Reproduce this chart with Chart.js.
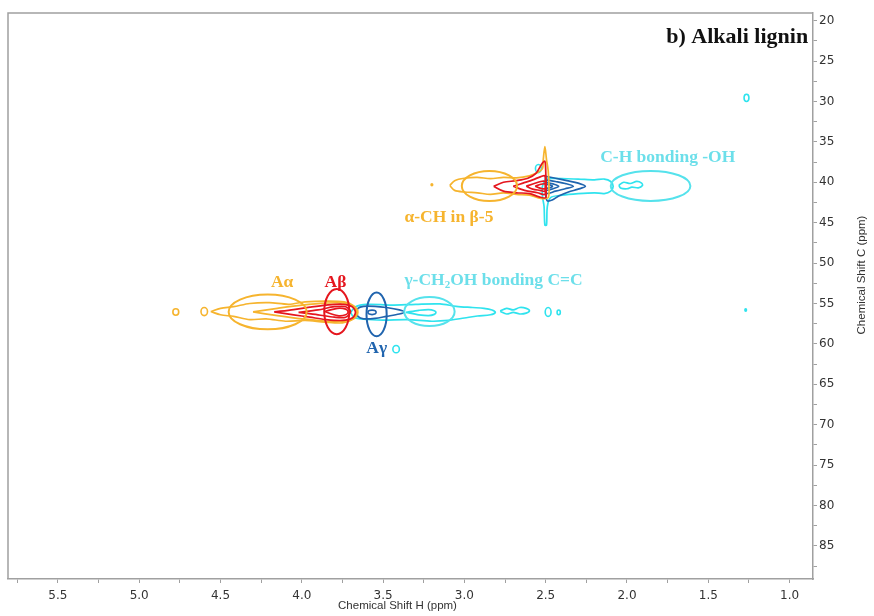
<!DOCTYPE html>
<html><head><meta charset="utf-8">
<script src="https://cdn.jsdelivr.net/npm/chart.js@4/dist/chart.umd.min.js"></script>
<style>html,body{margin:0;padding:0;background:#fff}#wrap{width:874px;height:616px}</style>
</head><body><div id="wrap"><canvas id="c" width="874" height="616"></canvas></div>
<script>
// ---------- axis settings (ppm) ----------
const xRange = [0.856, 5.807];   // 1H (reversed)
const yRange = [19.05, 89.1];    // 13C (reversed)
const xTitle = 'Chemical Shift H (ppm)';
const yTitle = 'Chemical Shift C (ppm)';

// ---------- contour outlines [H ppm, C ppm] ----------
// upper cluster (~40 ppm)
const upCyanOuter = [[2.50,39.5],[2.40,39.55],[2.30,39.6],[2.20,39.7],[2.14,39.6],[2.10,39.9],[2.085,40.5],[2.10,41.1],[2.14,41.4],[2.20,41.3],[2.30,41.4],[2.40,41.6],[2.47,41.9],[2.49,43.0],[2.495,45.3],[2.505,45.3],[2.51,43.0],[2.52,41.7],[2.52,40.5]];
const upCyanBlob = [[2.05,40.35],[2.02,40.0],[1.98,40.15],[1.94,39.9],[1.91,40.1],[1.905,40.4],[1.93,40.7],[1.97,40.6],[2.00,40.8],[2.04,40.7]];
const upBlue1 = [[2.50,39.25],[2.44,39.5],[2.37,39.8],[2.30,40.1],[2.256,40.5],[2.30,40.85],[2.36,41.2],[2.42,41.7],[2.46,42.2],[2.49,42.3],[2.50,41.5]];
const upBlue2 = [[2.495,39.7],[2.44,39.9],[2.38,40.15],[2.33,40.5],[2.38,40.8],[2.44,41.1],[2.495,41.35]];
const upBlue3 = [[2.495,40.0],[2.455,40.2],[2.42,40.5],[2.455,40.8],[2.495,40.95]];
const upBlue4 = [[2.495,40.25],[2.47,40.35],[2.458,40.5],[2.47,40.65],[2.495,40.7]];
const upOrangeOuter = [[3.09,40.4],[3.06,39.8],[3.0,39.5],[2.92,39.4],[2.84,39.55],[2.76,39.4],[2.68,39.45],[2.60,39.2],[2.55,38.8],[2.52,38.3],[2.515,37.2],[2.505,35.6],[2.495,37.2],[2.485,38.5],[2.48,40.5],[2.485,41.9],[2.53,42.0],[2.60,41.6],[2.68,41.5],[2.76,41.3],[2.84,41.5],[2.92,41.3],[3.0,41.2],[3.06,41.0]];
const upRed1 = [[2.82,40.5],[2.76,40.0],[2.68,39.8],[2.61,39.5],[2.56,38.9],[2.52,37.6],[2.505,37.4],[2.50,38.5],[2.498,40.5],[2.50,41.9],[2.54,41.8],[2.60,41.4],[2.68,41.3],[2.76,41.1]];
const upRed2 = [[2.70,40.5],[2.64,40.1],[2.58,39.7],[2.53,39.3],[2.505,39.2],[2.50,40.5],[2.505,41.5],[2.55,41.3],[2.63,41.0]];
const upRed3 = [[2.62,40.5],[2.57,40.15],[2.53,39.9],[2.505,39.9],[2.50,40.5],[2.505,41.1],[2.535,41.0],[2.58,40.85]];
const upRed4 = [[2.565,40.5],[2.53,40.25],[2.505,40.2],[2.50,40.5],[2.505,40.8],[2.53,40.75]];

// lower cluster (~56 ppm)
const loCyanOuter = [[3.70,56.1],[3.67,55.4],[3.60,55.1],[3.45,55.2],[3.30,55.1],[3.15,55.05],[3.05,55.35],[2.95,55.5],[2.88,55.6],[2.83,55.8],[2.81,56.1],[2.84,56.4],[2.92,56.55],[3.0,56.8],[3.1,57.1],[3.2,57.2],[3.35,57.0],[3.5,57.05],[3.62,56.95],[3.68,56.7]];
const loCyanInner = [[3.36,56.1],[3.28,55.85],[3.22,55.75],[3.185,55.9],[3.175,56.1],[3.185,56.35],[3.22,56.5],[3.28,56.4]];
const loCyanBlob = [[2.78,55.95],[2.74,55.6],[2.70,55.8],[2.66,55.5],[2.62,55.6],[2.60,55.9],[2.62,56.2],[2.66,56.3],[2.70,56.1],[2.74,56.3]];
const loBlue1 = [[3.66,56.1],[3.655,55.6],[3.62,55.35],[3.55,55.35],[3.48,55.5],[3.40,55.8],[3.37,56.05],[3.40,56.3],[3.48,56.6],[3.55,56.85],[3.62,56.9],[3.655,56.6]];
const loOrangeOuter = [[4.56,56.0],[4.50,55.6],[4.42,55.4],[4.32,55.0],[4.20,54.9],[4.08,55.1],[3.98,54.8],[3.85,54.7],[3.74,54.8],[3.68,55.3],[3.655,56.1],[3.68,56.9],[3.75,57.4],[3.86,57.3],[3.98,57.1],[4.10,57.2],[4.22,56.9],[4.32,57.0],[4.42,56.6],[4.50,56.4]];
const loOrange2 = [[4.30,56.05],[4.15,55.6],[4.0,55.2],[3.85,54.95],[3.74,54.95],[3.68,55.4],[3.665,56.1],[3.68,56.8],[3.74,57.2],[3.85,57.2],[4.0,56.9],[4.15,56.5]];
const loRed1 = [[4.17,56.05],[4.05,55.75],[3.95,55.45],[3.85,55.2],[3.75,55.1],[3.69,55.4],[3.67,56.1],[3.69,56.8],[3.75,57.1],[3.85,57.0],[3.95,56.7],[4.05,56.4]];
const loRed2 = [[4.02,56.1],[3.90,55.8],[3.80,55.4],[3.73,55.4],[3.70,56.0],[3.73,56.7],[3.80,56.7],[3.90,56.4]];
const loRed3 = [[3.86,56.0],[3.78,55.6],[3.73,55.7],[3.715,56.05],[3.73,56.4],[3.78,56.5]];

// small isolated peaks [H, C, halfwidth H, halfheight C]
const cyanSmallPeaks = [[2.545,38.3,0.018,0.5],[2.485,56.05,0.018,0.55],[2.42,56.1,0.01,0.3],[1.27,55.8,0.004,0.15],[3.42,60.65,0.02,0.45],[1.265,29.55,0.015,0.45]];
const blueSmallPeaks = [[3.568,56.1,0.025,0.28]];
const orangeSmallPeaks = [[4.775,56.05,0.018,0.4],[4.60,56.0,0.02,0.5],[3.20,40.3,0.004,0.12]];

// annotation ellipses [H, C, halfwidth H, halfheight C]
const ellOrange = [[2.846,40.45,0.17,1.86],[4.21,56.05,0.24,2.15]];
const ellCyan = [[1.855,40.45,0.245,1.86],[3.215,56.0,0.155,1.8]];
const ellRed = [[3.785,56.0,0.077,2.8]];
const ellBlue = [[3.54,56.35,0.062,2.7]];

// labels [text, H, C]
const labOrange = [['α-CH in β-5',3.369,44.33],['Aα',4.19,52.38]];
const labRed = [['Aβ',3.86,52.38]];
const labBlue = [['Aγ',3.603,60.56]];
const labCyan = [['C-H bonding -OH',2.165,36.89]];
const panelTitle = ['b) Alkali lignin',0.886,22.0];

const COL = {orange:'#F6B42E', red:'#E5161E', blue:'#2064AE', cyan:'#2FE3EE', cyanText:'#6CDFEA', axis:'#a0a0a0', text:'#333'};

function loop(arr){ const p = arr.map(a=>({x:a[0],y:a[1]})); p.push({x:arr[0][0],y:arr[0][1]}); return p; }
function ds(arr,color,order,w){ return {data:loop(arr),showLine:true,borderColor:color,borderWidth:w||1.7,pointRadius:0,fill:false,tension:0.3,order:order}; }

const datasets = [
  ds(upRed4,COL.red,0),ds(upRed3,COL.red,0),ds(upRed2,COL.red,0),ds(upRed1,COL.red,0),
  ds(loRed3,COL.red,0),ds(loRed2,COL.red,0),ds(loRed1,COL.red,0),
  ds(upOrangeOuter,COL.orange,1),ds(loOrangeOuter,COL.orange,1),ds(loOrange2,COL.orange,1),
  ds(upBlue1,COL.blue,2),ds(upBlue2,COL.blue,2),ds(upBlue3,COL.blue,2),ds(upBlue4,COL.blue,2),ds(loBlue1,COL.blue,2),
  ds(upCyanOuter,COL.cyan,3),ds(upCyanBlob,COL.cyan,3),ds(loCyanOuter,COL.cyan,3),ds(loCyanInner,COL.cyan,3),ds(loCyanBlob,COL.cyan,3)
];

function ellipses(ctx,xs,ys,list,color,w){
  ctx.save(); ctx.strokeStyle=color; ctx.lineWidth=w;
  list.forEach(e=>{
    const cx=xs.getPixelForValue(e[0]), cy=ys.getPixelForValue(e[1]);
    const rx=Math.abs(xs.getPixelForValue(e[0]+e[2])-cx), ry=Math.abs(ys.getPixelForValue(e[1]+e[3])-cy);
    ctx.beginPath(); ctx.ellipse(cx,cy,Math.max(rx,0.8),Math.max(ry,0.8),0,0,Math.PI*2); ctx.stroke();
  });
  ctx.restore();
}

const decor = {
  id:'decor',
  beforeDatasetsDraw(chart){
    const {ctx,scales:{x:xs,y:ys}} = chart;
    ellipses(ctx,xs,ys,cyanSmallPeaks,COL.cyan,1.6);
    ellipses(ctx,xs,ys,blueSmallPeaks,COL.blue,1.6);
    ellipses(ctx,xs,ys,orangeSmallPeaks,COL.orange,1.6);
  },
  afterDatasetsDraw(chart){
    const {ctx,chartArea:a,scales:{x:xs,y:ys}} = chart;
    ellipses(ctx,xs,ys,ellCyan,'#55E2EC',2);
    ellipses(ctx,xs,ys,ellOrange,COL.orange,2);
    ellipses(ctx,xs,ys,ellBlue,COL.blue,2);
    ellipses(ctx,xs,ys,ellRed,COL.red,2);
    // frame top/left
    ctx.save(); ctx.strokeStyle=COL.axis; ctx.lineWidth=1.5;
    ctx.beginPath(); ctx.moveTo(a.left,a.bottom); ctx.lineTo(a.left,a.top); ctx.lineTo(a.right,a.top); ctx.stroke();
    ctx.restore();
    // labels
    ctx.save(); ctx.textBaseline='middle'; ctx.textAlign='left';
    const F='bold 17.5px "Liberation Serif", "Times New Roman", serif';
    ctx.font=F;
    const put=(list,color)=>list.forEach(l=>{ctx.fillStyle=color; ctx.fillText(l[0],xs.getPixelForValue(l[1]),ys.getPixelForValue(l[2]));});
    put(labOrange,COL.orange); put(labRed,COL.red); put(labBlue,COL.blue); put(labCyan,COL.cyanText);
    // gamma-CH2OH label with subscript
    let gx=xs.getPixelForValue(3.369), gy=ys.getPixelForValue(52.13);
    ctx.fillStyle=COL.cyanText;
    const s1='γ-CH', s2='2', s3='OH bonding C=C';
    ctx.fillText(s1,gx,gy); gx+=ctx.measureText(s1).width;
    ctx.font='bold 11px "Liberation Serif", serif'; ctx.fillText(s2,gx,gy+5); gx+=ctx.measureText(s2).width;
    ctx.font=F; ctx.fillText(s3,gx,gy);
    // panel title
    ctx.font='bold 22px "Liberation Serif", "Times New Roman", serif';
    ctx.fillStyle='#111'; ctx.textAlign='right';
    ctx.fillText(panelTitle[0],xs.getPixelForValue(panelTitle[1]),ys.getPixelForValue(panelTitle[2]));
    // axis titles
    ctx.font='11.5px "Liberation Sans", Arial, sans-serif'; ctx.fillStyle=COL.text; ctx.textAlign='center';
    ctx.fillText(xTitle,(a.left+a.right)/2-13,606);
    ctx.translate(862,275); ctx.rotate(-Math.PI/2);
    ctx.fillText(yTitle,0,0);
    ctx.restore();
  }
};

const tickFont = {family:'"DejaVu Sans", Verdana, sans-serif', size:12};
new Chart(document.getElementById('c'),{
  type:'scatter',
  data:{datasets},
  options:{
    responsive:false, animation:false, devicePixelRatio:1,
    layout:{padding:{left:8,top:13,right:0,bottom:0}},
    plugins:{legend:{display:false},tooltip:{enabled:false}},
    scales:{
      x:{type:'linear',reverse:true,min:xRange[0],max:xRange[1],position:'bottom',
         afterFit:s=>{s.height=37;},
         grid:{drawOnChartArea:false,drawTicks:true,tickLength:4,color:COL.axis},
         border:{display:true,color:COL.axis,width:1.5},
         ticks:{stepSize:0.25,includeBounds:false,autoSkip:false,maxRotation:0,padding:6,color:COL.text,font:tickFont,
           callback:v=>Math.abs(v*2-Math.round(v*2))<1e-6?v.toFixed(1):''}},
      y:{type:'linear',reverse:true,min:yRange[0],max:yRange[1],position:'right',
         afterFit:s=>{s.width=61;},
         grid:{drawOnChartArea:false,drawTicks:true,tickLength:4,color:COL.axis},
         border:{display:true,color:COL.axis,width:1.5},
         ticks:{stepSize:2.5,includeBounds:false,autoSkip:false,padding:2,color:COL.text,font:tickFont,
           callback:v=>Math.abs(v/5-Math.round(v/5))<1e-6?String(Math.round(v)):''}}
    }
  },
  plugins:[decor]
});
</script></body></html>
